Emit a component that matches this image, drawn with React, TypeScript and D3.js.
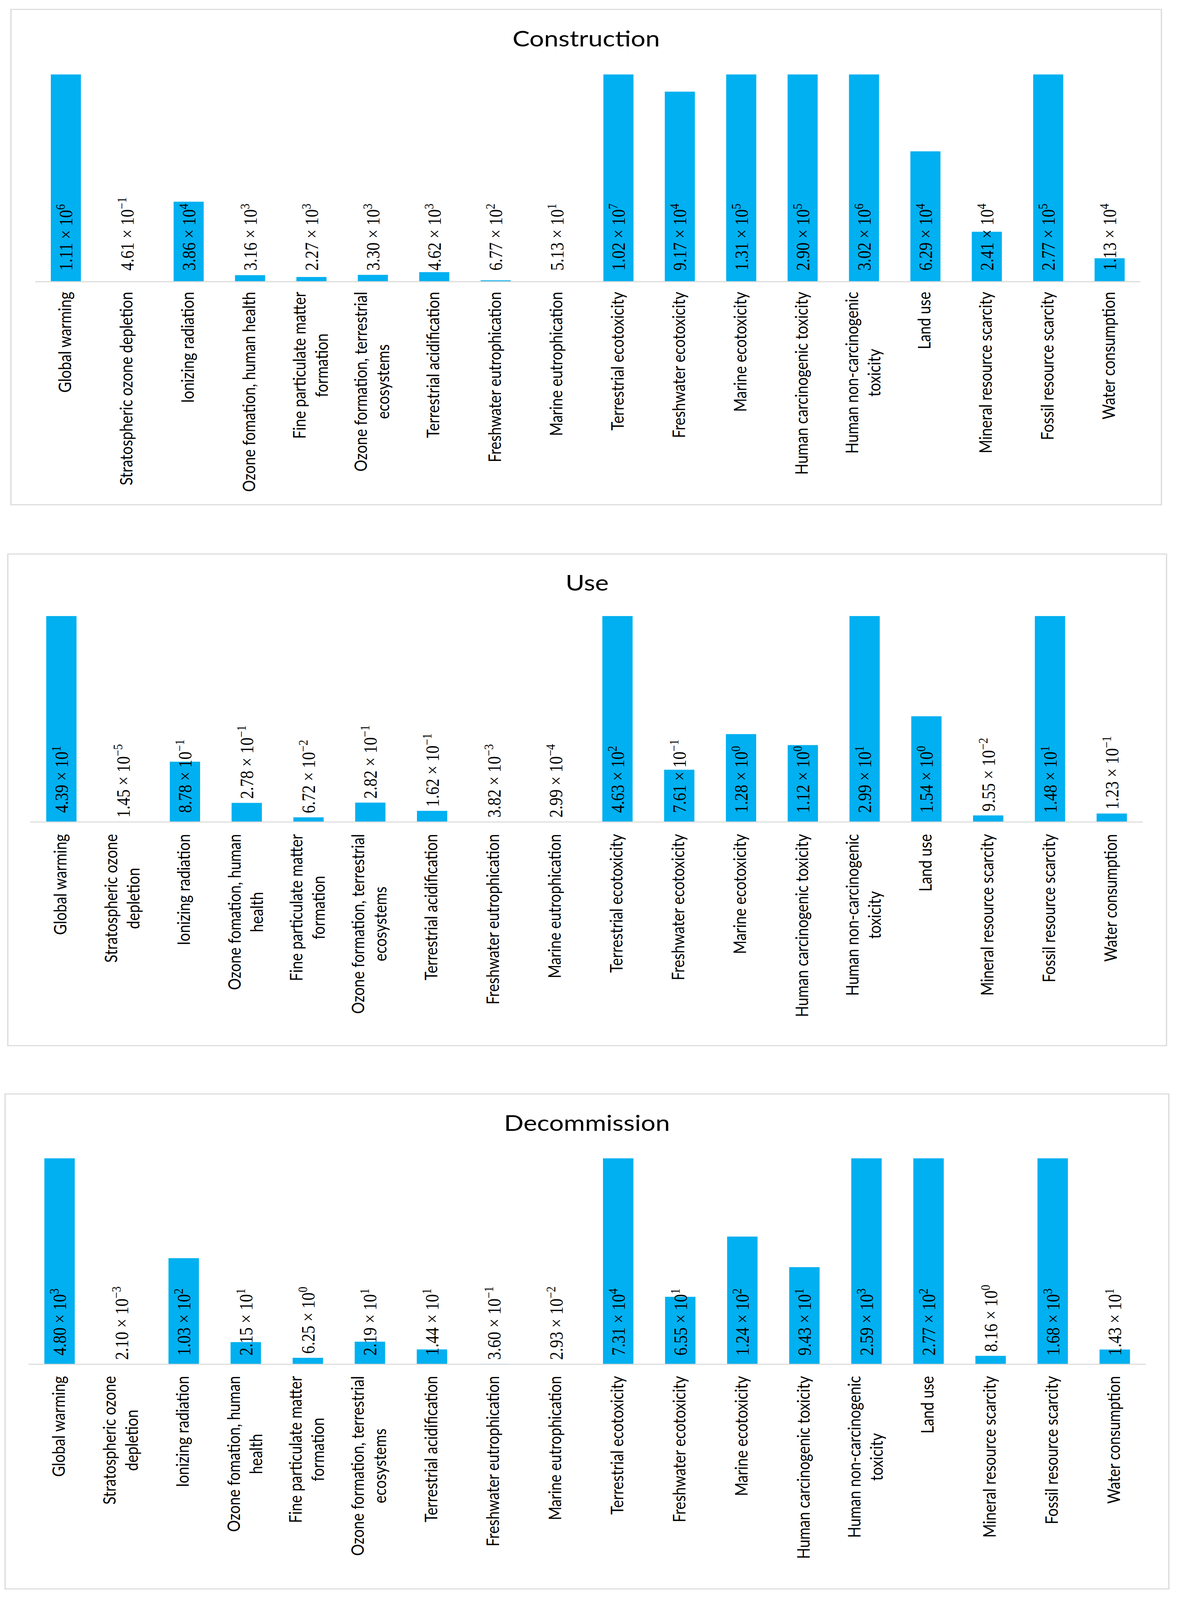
import { useRef, useEffect } from 'react';
import * as d3 from 'd3';

// category labels, already wrapped the way each panel wraps them
const constructionCategories: string[][] = [
  ['Global warming'],
  ['Stratospheric ozone depletion'],
  ['Ionizing radiation'],
  ['Ozone fomation, human health'],
  ['Fine particulate matter', 'formation'],
  ['Ozone formation, terrestrial', 'ecosystems'],
  ['Terrestrial acidification'],
  ['Freshwater eutrophication'],
  ['Marine eutrophication'],
  ['Terrestrial ecotoxicity'],
  ['Freshwater ecotoxicity'],
  ['Marine ecotoxicity'],
  ['Human carcinogenic toxicity'],
  ['Human non-carcinogenic', 'toxicity'],
  ['Land use'],
  ['Mineral resource scarcity'],
  ['Fossil resource scarcity'],
  ['Water consumption'],
];

const phaseCategories: string[][] = [
  ['Global warming'],
  ['Stratospheric ozone', 'depletion'],
  ['Ionizing radiation'],
  ['Ozone fomation, human', 'health'],
  ['Fine particulate matter', 'formation'],
  ['Ozone formation, terrestrial', 'ecosystems'],
  ['Terrestrial acidification'],
  ['Freshwater eutrophication'],
  ['Marine eutrophication'],
  ['Terrestrial ecotoxicity'],
  ['Freshwater ecotoxicity'],
  ['Marine ecotoxicity'],
  ['Human carcinogenic toxicity'],
  ['Human non-carcinogenic', 'toxicity'],
  ['Land use'],
  ['Mineral resource scarcity'],
  ['Fossil resource scarcity'],
  ['Water consumption'],
];

const constructionValues = [
  1.11e6, 4.61e-1, 3.86e4, 3.16e3, 2.27e3, 3.3e3, 4.62e3, 6.77e2, 5.13e1,
  1.02e7, 9.17e4, 1.31e5, 2.9e5, 3.02e6, 6.29e4, 2.41e4, 2.77e5, 1.13e4,
];

const useValues = [
  4.39e1, 1.45e-5, 8.78e-1, 2.78e-1, 6.72e-2, 2.82e-1, 1.62e-1, 3.82e-3, 2.99e-4,
  4.63e2, 7.61e-1, 1.28e0, 1.12e0, 2.99e1, 1.54e0, 9.55e-2, 1.48e1, 1.23e-1,
];

const decommissionValues = [
  4.8e3, 2.1e-3, 1.03e2, 2.15e1, 6.25e0, 2.19e1, 1.44e1, 3.6e-1, 2.93e-2,
  7.31e4, 6.55e1, 1.24e2, 9.43e1, 2.59e3, 2.77e2, 8.16e0, 1.68e3, 1.43e1,
];

const panelTitles = ['Construction', 'Use', 'Decommission'];
// value axis is cut off here, taller bars are clipped at the top
const axisMaxima = [1e5, 3, 200];

const panels = [
  { title: panelTitles[0], categories: constructionCategories, values: constructionValues, max: axisMaxima[0] },
  { title: panelTitles[1], categories: phaseCategories, values: useValues, max: axisMaxima[1] },
  { title: panelTitles[2], categories: phaseCategories, values: decommissionValues, max: axisMaxima[2] },
];

// pixel layout of each panel
const layout = [
  { box: [28, 28, 2972, 1505], range: [90, 2918], base: 840, top: 222, titleY: 139, labelGap: 33, smallBar: 0, catGap: 30 },
  { box: [20, 1652, 2985, 3118], range: [78, 2924], base: 2451, top: 1837, titleY: 1761, labelGap: 27, smallBar: 65, catGap: 36 },
  { box: [13, 3262, 2991, 4738], range: [73, 2932], base: 4068, top: 3454, titleY: 3372, labelGap: 26, smallBar: 32, catGap: 35 },
];

const WIDTH = 3017;
const HEIGHT = 4771;
const BAR = '#00b0f0';
const GRID = '#d9d9d9';
const SANS = 'Lato, Calibri, "Open Sans", sans-serif';
const SERIF = '"Liberation Serif", "Times New Roman", serif';

const splitSci = (v: number) => {
  let e = Math.floor(Math.log10(v));
  let m = v / Math.pow(10, e);
  if (Number(m.toFixed(2)) >= 10) {
    e += 1;
    m = v / Math.pow(10, e);
  }
  return { mant: m.toFixed(2), exp: String(e).replace('-', '\u2212') };
};

const App = () => {
  const svgRef = useRef<SVGSVGElement | null>(null);
  // the browser window can be shorter than the figure, squeeze it to fit then
  const shownHeight = Math.min(HEIGHT, window.innerHeight || HEIGHT);

  useEffect(() => {
    document.body.style.margin = '0';
    const svg = d3.select(svgRef.current);
    svg.selectAll('*').remove();

    panels.forEach((panel, pi) => {
      const L = layout[pi];
      const g = svg.append('g');

      // frame
      g.append('rect')
        .attr('x', L.box[0])
        .attr('y', L.box[1])
        .attr('width', L.box[2] - L.box[0])
        .attr('height', L.box[3] - L.box[1])
        .attr('fill', '#fff')
        .attr('stroke', GRID)
        .attr('stroke-width', 3);

      g.append('text')
        .attr('x', (L.box[0] + L.box[2]) / 2)
        .attr('y', L.titleY)
        .attr('text-anchor', 'middle')
        .attr('font-family', SANS)
        .attr('font-size', 66)
        .attr('fill', '#000')
        .text(panel.title);

      const idx = d3.range(panel.values.length);
      const x = d3
        .scaleBand<number>()
        .domain(idx)
        .range([L.range[0], L.range[1]])
        .paddingInner(0.51)
        .paddingOuter(0.255);
      const y = d3
        .scaleLinear()
        .domain([0, panel.max])
        .range([L.base, L.top])
        .clamp(true);

      // bars
      g.selectAll('.bar')
        .data(panel.values)
        .join('rect')
        .attr('class', 'bar')
        .attr('x', (d, i) => x(i) as number)
        .attr('width', x.bandwidth())
        .attr('y', (d) => y(d))
        .attr('height', (d) => L.base - y(d))
        .attr('fill', BAR);

      // category axis line
      g.append('line')
        .attr('x1', L.range[0])
        .attr('x2', L.range[1])
        .attr('y1', L.base)
        .attr('y2', L.base)
        .attr('stroke', GRID)
        .attr('stroke-width', 3);

      // value labels, rotated, sitting at the base or just above a short bar
      const labels = g
        .selectAll('.vlabel')
        .data(panel.values)
        .join('text')
        .attr('class', 'vlabel')
        .attr('transform', (d, i) => {
          const cx = (x(i) as number) + x.bandwidth() / 2;
          const h = L.base - y(d);
          const yb = h < L.smallBar ? Math.min(L.base - 13, y(d) - 12) : L.base - L.labelGap;
          return `translate(${cx},${yb}) rotate(-90)`;
        })
        .attr('dy', '0.35em')
        .attr('font-family', SERIF)
        .attr('font-size', 48)
        .attr('fill', '#000');
      labels.each(function (d) {
        const s = splitSci(d as number);
        const t = d3.select(this);
        t.append('tspan').text(`${s.mant} \u00d7 10`);
        t.append('tspan').attr('font-size', 34).attr('dy', -19).text(s.exp);
      });

      // category labels, wrapped lines centred on each other
      const lh = 57;
      panel.categories.forEach((lines, i) => {
        const cx = (x(i) as number) + x.bandwidth() / 2;
        const cg = g
          .append('g')
          .attr('transform', `translate(${cx},${L.base + L.catGap}) rotate(-90)`);
        const texts = lines.map((line, k) =>
          cg
            .append('text')
            .attr('y', (k - (lines.length - 1) / 2) * lh)
            .attr('dy', '0.3em')
            .attr('text-anchor', 'middle')
            .attr('font-family', SANS)
            .attr('font-size', 44)
            .attr('fill', '#000')
            .text(line)
        );
        const maxLen = d3.max(texts, (t) => (t.node() as SVGTextElement).getComputedTextLength()) || 0;
        texts.forEach((t) => t.attr('x', -maxLen / 2));
      });
    });
  }, []);

  return (
    <div style={{ background: '#fff', width: WIDTH, height: shownHeight, overflow: 'hidden' }}>
      <svg
        ref={svgRef}
        width={WIDTH}
        height={shownHeight}
        viewBox={`0 0 ${WIDTH} ${HEIGHT}`}
        preserveAspectRatio="none"
        style={{ display: 'block' }}
      ></svg>
    </div>
  );
};

export default App;
